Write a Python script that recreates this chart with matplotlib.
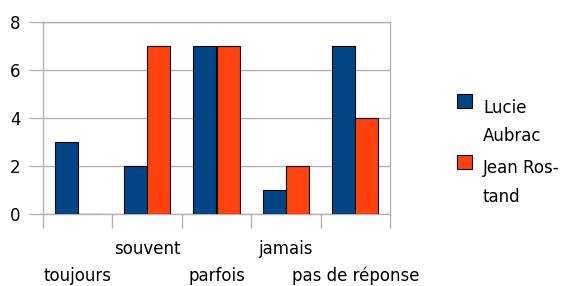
import matplotlib
matplotlib.use("Agg")
import matplotlib.pyplot as plt
import matplotlib.patches as mpatches
from matplotlib.legend_handler import HandlerPatch
import numpy as np

categories = ["toujours", "souvent", "parfois", "jamais", "pas de réponse"]
series_names = ["Lucie\nAubrac", "Jean Ros-\ntand"]
lucie = [3, 2, 7, 1, 7]
jean = [0, 7, 7, 2, 4]
colors = ["#004586", "#ff420e"]

plt.rcParams['font.family'] = ['DejaVu Sans']

fig = plt.figure(figsize=(5.8, 2.86), dpi=100)
ax = fig.add_axes([43/580, 1-214/286, (390-43)/580, (214-22)/286])

x = np.arange(len(categories))
w = 0.333
b1 = ax.bar(x - w/2, lucie, w, color=colors[0], edgecolor="black", linewidth=0.8, zorder=3)
b2 = ax.bar(x + w/2, jean, w, color=colors[1], edgecolor="black", linewidth=0.8, zorder=3)

ax.set_xlim(-0.5, len(categories) - 0.5)
ax.set_ylim(0, 8)
ax.set_yticks([0, 2, 4, 6, 8])
ax.yaxis.grid(True, color="#b3b3b3", linewidth=1, zorder=0)

ax.set_xticks(np.arange(len(categories) + 1) - 0.5)
ax.set_xticklabels([])
ax.set_xticks(x, minor=True)
ax.set_xticklabels(categories, minor=True)
ax.tick_params(axis="x", which="major", length=10, color="#b3b3b3", width=1)
ax.tick_params(axis="x", which="minor", length=0, labelsize=12)
ax.tick_params(axis="y", length=10, color="#b3b3b3", width=1, labelsize=12, pad=6)
for i, t in enumerate(ax.xaxis.get_minor_ticks()):
    t.set_pad(19 if i % 2 == 1 else 38)

for s in ax.spines.values():
    s.set_color("#b3b3b3")
    s.set_linewidth(1)


def raised_square(legend, orig_handle, xdescent, ydescent, width, height, fontsize):
    return mpatches.Rectangle((-xdescent, -ydescent + 1.32 * fontsize), width, height)


handles = [b1.patches[0], b2.patches[0]]
leg = fig.legend(handles, series_names, loc="upper left", bbox_to_anchor=(445/580, 1-87/286),
                 frameon=False, fontsize=12, handlelength=0.95, handleheight=0.95,
                 handletextpad=0.63, labelspacing=0.85, borderpad=0.2,
                 handler_map={mpatches.Rectangle: HandlerPatch(patch_func=raised_square)})
for t in leg.get_texts():
    t.set_linespacing(1.75)

fig.savefig("out.png", dpi=100)
